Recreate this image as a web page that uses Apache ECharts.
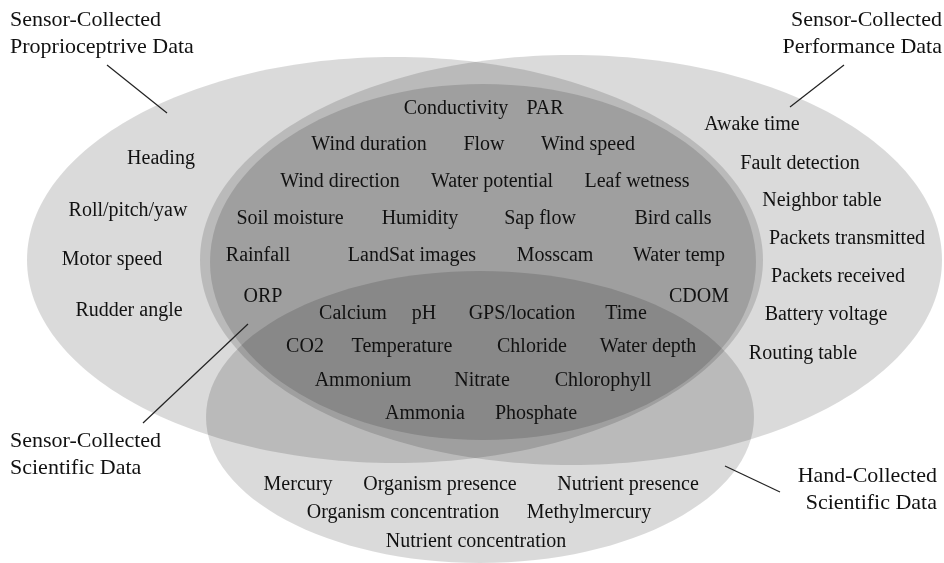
<!DOCTYPE html>
<html>
<head>
<meta charset="utf-8">
<script src="https://cdn.jsdelivr.net/npm/echarts@6/dist/echarts.min.js"></script>
<style>
html,body{margin:0;padding:0;background:#fff;}
#chart{width:944px;height:563px;}
</style>
</head>
<body>
<div id="chart"></div>
<script>
// Sets of the Venn diagram: centre and radii in chart units (x right, y down)
const setNames   = ['Sensor-Collected Proprioceptive', 'Sensor-Collected Performance', 'Sensor-Collected Scientific', 'Hand-Collected Scientific'];
const setCenterX = [395, 571, 483, 480];
const setCenterY = [260, 260, 262, 417];
const setRadiusX = [368, 371, 273, 274];
const setRadiusY = [203, 205, 178, 146];

// Items: [label, x, y]
const proprioceptiveItems = [
  ['Heading', 161, 159], ['Roll/pitch/yaw', 128, 211], ['Motor speed', 112, 260], ['Rudder angle', 129, 311]
];
const performanceItems = [
  ['Awake time', 752, 125], ['Fault detection', 800, 164], ['Neighbor table', 822, 201],
  ['Packets transmitted', 847, 239], ['Packets received', 838, 277], ['Battery voltage', 826, 315],
  ['Routing table', 803, 354]
];
const sensorScientificItems = [
  ['Conductivity', 456, 109], ['PAR', 545, 109],
  ['Wind duration', 369, 145], ['Flow', 484, 145], ['Wind speed', 588, 145],
  ['Wind direction', 340, 182], ['Water potential', 492, 182], ['Leaf wetness', 637, 182],
  ['Soil moisture', 290, 219], ['Humidity', 420, 219], ['Sap flow', 540, 219], ['Bird calls', 673, 219],
  ['Rainfall', 258, 256], ['LandSat images', 412, 256], ['Mosscam', 555, 256], ['Water temp', 679, 256],
  ['ORP', 263, 297], ['CDOM', 699, 297]
];
const sharedScientificItems = [
  ['Calcium', 353, 314], ['pH', 424, 314], ['GPS/location', 522, 314], ['Time', 626, 314],
  ['CO2', 305, 347], ['Temperature', 402, 347], ['Chloride', 532, 347], ['Water depth', 648, 347],
  ['Ammonium', 363, 381], ['Nitrate', 482, 381], ['Chlorophyll', 603, 381],
  ['Ammonia', 425, 414], ['Phosphate', 536, 414]
];
const handItems = [
  ['Mercury', 298, 485], ['Organism presence', 440, 485], ['Nutrient presence', 628, 485],
  ['Organism concentration', 403, 513], ['Methylmercury', 589, 513],
  ['Nutrient concentration', 476, 542]
];
// Set titles: [text, x, y, align]
const setTitles = [
  ['Sensor-Collected', 10, 20, 'left'], ['Proprioceptrive Data', 10, 47, 'left'],
  ['Sensor-Collected', 942, 20, 'right'], ['Performance Data', 942, 47, 'right'],
  ['Sensor-Collected', 10, 441, 'left'], ['Scientific Data', 10, 468, 'left'],
  ['Hand-Collected', 937, 476, 'right'], ['Scientific Data', 937, 503, 'right']
];
// Leader lines: [x1, y1, x2, y2]
const leaderLines = [
  [107, 65, 167, 113],
  [844, 65, 790, 107],
  [248, 324, 143, 423],
  [725, 466, 780, 492]
];

const itemData = [].concat(proprioceptiveItems, performanceItems, sensorScientificItems, sharedScientificItems, handItems)
  .map(d => ({ name: d[0], value: [d[1], d[2]] }));
const titleData = setTitles.map(d => ({ name: d[0], value: [d[1], d[2]], align: d[3] }));
const ellipseData = setNames.map((n, i) => ({ name: n, value: [setCenterX[i], setCenterY[i], setRadiusX[i], setRadiusY[i]] }));

const chart = echarts.init(document.getElementById('chart'), null, { renderer: 'canvas' });
const FONT = '"Liberation Serif", "Times New Roman", serif';

chart.setOption({
  animation: false,
  backgroundColor: '#ffffff',
  grid: { left: 0, right: 0, top: 0, bottom: 0 },
  xAxis: { type: 'value', min: 0, max: 944, show: false },
  yAxis: { type: 'value', min: 0, max: 563, inverse: true, show: false },
  tooltip: { show: false },
  series: [
    {
      type: 'custom',
      name: 'sets',
      data: ellipseData,
      silent: true,
      renderItem: function (params, api) {
        const c = api.coord([api.value(0), api.value(1)]);
        const s = api.size([api.value(2), api.value(3)]);
        return {
          type: 'ellipse',
          shape: { cx: c[0], cy: c[1], rx: Math.abs(s[0]), ry: Math.abs(s[1]) },
          style: { fill: 'rgba(0,0,0,0.145)', stroke: null }
        };
      }
    },
    {
      type: 'custom',
      name: 'leaders',
      data: leaderLines.map(l => ({ value: l })),
      silent: true,
      renderItem: function (params, api) {
        const a = api.coord([api.value(0), api.value(1)]);
        const b = api.coord([api.value(2), api.value(3)]);
        return {
          type: 'line',
          shape: { x1: a[0], y1: a[1], x2: b[0], y2: b[1] },
          style: { stroke: '#222', lineWidth: 1.2 }
        };
      }
    },
    {
      type: 'custom',
      name: 'items',
      data: itemData,
      silent: true,
      renderItem: function (params, api) {
        const p = api.coord([api.value(0), api.value(1)]);
        return {
          type: 'text',
          x: p[0], y: p[1],
          style: {
            text: itemData[params.dataIndex].name,
            font: '20px ' + FONT,
            fill: '#111',
            textAlign: 'center',
            textVerticalAlign: 'middle'
          }
        };
      }
    },
    {
      type: 'custom',
      name: 'titles',
      data: titleData,
      silent: true,
      renderItem: function (params, api) {
        const p = api.coord([api.value(0), api.value(1)]);
        const d = titleData[params.dataIndex];
        return {
          type: 'text',
          x: p[0], y: p[1],
          style: {
            text: d.name,
            font: '22px ' + FONT,
            fill: '#111',
            textAlign: d.align,
            textVerticalAlign: 'middle'
          }
        };
      }
    }
  ]
});
</script>
</body>
</html>
